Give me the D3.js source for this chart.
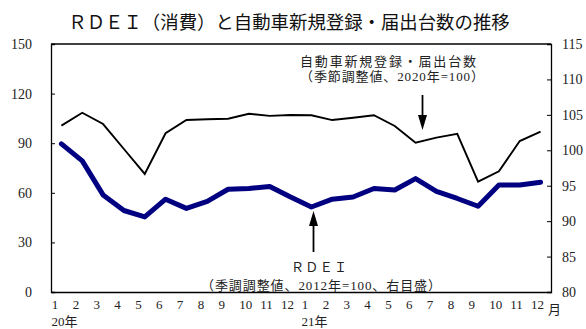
<html>
<head>
<meta charset="utf-8">
<style>
  body { margin: 0; background: #fff; }
  svg { display: block; }
  text { font-family: "Liberation Serif", "Noto Sans CJK JP", serif; fill: #222; }
  .title { font-family: "Noto Sans CJK JP", sans-serif; fill: #111; }
</style>
</head>
<body>
<svg id="chart" width="586" height="329"></svg>
<script src="https://cdn.jsdelivr.net/npm/d3@7"></script>
<script>
// month labels along the bottom (Jan 2020 - Dec 2021)
var monthLabels = ["1","2","3","4","5","6","7","8","9","10","11","12",
                   "1","2","3","4","5","6","7","8","9","10","11","12"];
var yearLabels = [{ idx: 0, text: "20年" }, { idx: 12, text: "21年" }];

// 自動車新規登録・届出台数 (季節調整値, 2020年=100) - left scale
var carSales = [100.6, 108.4, 101.6, 86.5, 71.4, 96.0, 104.0, 104.5, 104.8, 107.8, 106.5, 107.1,
                106.9, 104.0, 105.4, 106.9, 100.4, 90.3, 93.4, 95.7, 66.7, 73.0, 91.3, 97.0];
// RDEI (季調調整値, 2012年=100) - right scale
var rdei = [100.9, 98.5, 93.7, 91.5, 90.6, 93.1, 91.8, 92.8, 94.5, 94.6, 94.9, 93.4,
            92.0, 93.1, 93.4, 94.6, 94.4, 96.0, 94.2, 93.2, 92.1, 95.1, 95.1, 95.5];

var leftTicks = [0, 30, 60, 90, 120, 150];
var rightTicks = [80, 85, 90, 95, 100, 105, 110, 115];

var mLeft = 51, mRight = 551, mTop = 44, mBottom = 292;
var svg = d3.select('#chart');

var x = d3.scaleBand().domain(d3.range(monthLabels.length)).range([mLeft, mRight]);
var yL = d3.scaleLinear().domain([0, 150]).range([mBottom, mTop]);
var yR = d3.scaleLinear().domain([80, 115]).range([mBottom, mTop]);
var bw = x.bandwidth();

// title
svg.append('text').attr('class', 'title')
  .attr('x', 289).attr('y', 28.5)
  .attr('text-anchor', 'middle')
  .style('font-size', '18.4px')
  .text('ＲＤＥＩ（消費）と自動車新規登録・届出台数の推移');

// frame top
svg.append('line')
  .attr('x1', mLeft).attr('x2', mRight).attr('y1', mTop).attr('y2', mTop)
  .attr('stroke', '#000').attr('stroke-width', 1.3);

// left axis
var gL = svg.append('g').attr('transform', 'translate(' + mLeft + ',0)')
  .call(d3.axisLeft(yL).tickValues(leftTicks).tickSize(-4).tickPadding(19));
// right axis
var gR = svg.append('g').attr('transform', 'translate(' + mRight + ',0)')
  .call(d3.axisRight(yR).tickValues(rightTicks).tickSize(-4).tickPadding(11));
// bottom axis
var gB = svg.append('g').attr('transform', 'translate(0,' + mBottom + ')')
  .call(d3.axisBottom(x).tickSize(0).tickPadding(8)
    .tickFormat(function(d) { return monthLabels[d]; }));

[gL, gR, gB].forEach(function(g) {
  g.select('.domain').attr('stroke', '#000').attr('stroke-width', 1.3);
  g.selectAll('.tick line').attr('stroke', '#000').attr('stroke-width', 1);
  g.selectAll('.tick text')
    .style('font-family', '"Liberation Serif", serif')
    .attr('fill', '#222');
});
gL.selectAll('.tick text').style('font-size', '14px');
gR.selectAll('.tick text').style('font-size', '14px');
gB.selectAll('.tick text').style('font-size', '13px')
  .attr('text-anchor', 'start').attr('dx', -bw / 2 + 0.8);

// year labels and month unit
svg.selectAll('.year').data(yearLabels).enter().append('text')
  .attr('class', 'year')
  .attr('x', function(d) { return x(d.idx) + 0.5; })
  .attr('y', 326)
  .style('font-size', '13px')
  .text(function(d) { return d.text; });
svg.append('text').attr('x', 548).attr('y', 314)
  .style('font-size', '13px').text('月');

// lines
var lineCar = d3.line()
  .x(function(d, i) { return x(i) + bw / 2; })
  .y(function(d) { return yL(d); });
var lineRdei = d3.line()
  .x(function(d, i) { return x(i) + bw / 2; })
  .y(function(d) { return yR(d); });

svg.append('path').datum(rdei)
  .attr('d', lineRdei)
  .attr('fill', 'none')
  .attr('stroke', '#000080')
  .attr('stroke-width', 5)
  .attr('stroke-linejoin', 'round')
  .attr('stroke-linecap', 'round');

svg.append('path').datum(carSales)
  .attr('d', lineCar)
  .attr('fill', 'none')
  .attr('stroke', '#000')
  .attr('stroke-width', 1.9);

// annotations
function arrow(xp, yFrom, yTip) {
  var dir = yTip > yFrom ? 1 : -1;
  svg.append('line')
    .attr('x1', xp).attr('x2', xp)
    .attr('y1', yFrom).attr('y2', yTip - dir * 12)
    .attr('stroke', '#000').attr('stroke-width', 1.8);
  svg.append('path')
    .attr('d', 'M' + (xp - 4.5) + ',' + (yTip - dir * 15) + 'L' + (xp + 4.5) + ',' + (yTip - dir * 15) +
      'L' + xp + ',' + yTip + 'Z')
    .attr('fill', '#000');
}

svg.append('text').attr('x', 388).attr('y', 66)
  .attr('text-anchor', 'middle').style('font-size', '13px')
  .attr('textLength', 176).attr('lengthAdjust', 'spacing')
  .text('自動車新規登録・届出台数');
svg.append('text').attr('x', 392).attr('y', 81)
  .attr('text-anchor', 'middle').style('font-size', '13px')
  .attr('textLength', 184).attr('lengthAdjust', 'spacing')
  .text('（季節調整値、2020年=100）');
arrow(422.5, 95, 130);

arrow(313.5, 252, 211);
svg.append('text').attr('x', 319).attr('y', 271.5)
  .attr('text-anchor', 'middle').style('font-size', '13px')
  .attr('textLength', 56).attr('lengthAdjust', 'spacing')
  .text('ＲＤＥＩ');
svg.append('text').attr('x', 321).attr('y', 289.5)
  .attr('text-anchor', 'middle').style('font-size', '13px')
  .attr('textLength', 240).attr('lengthAdjust', 'spacing')
  .text('（季調調整値、2012年=100、右目盛）');
</script>
</body>
</html>
